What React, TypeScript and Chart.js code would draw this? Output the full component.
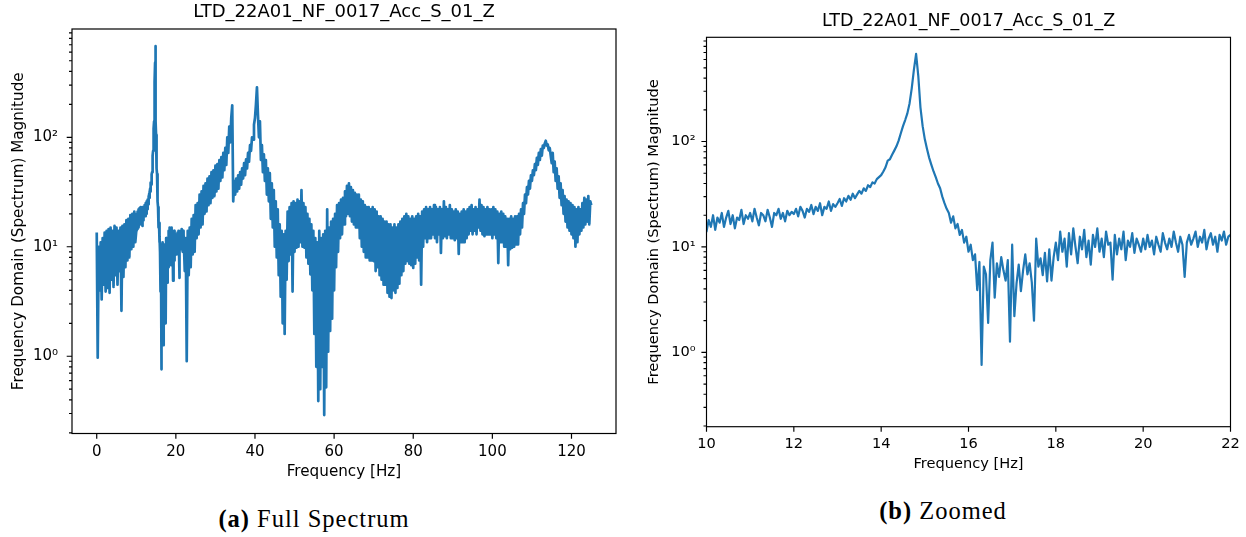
import React, { useEffect, useRef } from 'react';
import { Chart, registerables } from 'chart.js';

Chart.register(...registerables);

// ---------- text ----------
const PLOT_TITLE = 'LTD_22A01_NF_0017_Acc_S_01_Z';
const X_AXIS_LABEL = 'Frequency [Hz]';
const Y_AXIS_LABEL = 'Frequency Domain (Spectrum) Magnitude';
const CAPTION_FULL_TAG = '(a)';
const CAPTION_FULL_TEXT = 'Full Spectrum';
const CAPTION_ZOOM_TAG = '(b)';
const CAPTION_ZOOM_TEXT = 'Zoomed';

// ---------- axes ----------
const FULL_X_TICKS = [0, 20, 40, 60, 80, 100, 120];
const ZOOM_X_TICKS = [10, 12, 14, 16, 18, 20, 22];
const Y_MAJOR_TICKS = [1, 10, 100];
const Y_MAJOR_LABELS = ['10\u2070', '10\u00B9', '10\u00B2'];
const FULL_X_RANGE = [-6.25, 131.25];
const ZOOM_X_RANGE = [10, 22];
const Y_RANGE = [0.197, 975];

// ---------- spectrum magnitude, per frequency bin ----------
// 0.00 .. 9.75 Hz, 0.25 Hz bins
const START_0_HZ = 0;
const STEP_0_HZ = 0.25;
const MAG_0_TO_10_HZ = [
  13.5, 0.97, 10, 4, 11, 3.3, 12, 4.5, 13.5, 3.9, 14, 4.2, 14.5, 3.8, 15, 5, 14, 4.3, 15.5, 5.5,
  15, 4.5, 14, 6, 15, 2.6, 15.5, 5.3, 16, 6.5, 17.5, 7.5, 18, 8, 19.5, 9.5, 20, 10, 21, 11,
];

// 10.00 .. 22.00 Hz, 0.05 Hz bins (zoomed region)
const START_10_HZ = 10;
const STEP_10_HZ = 0.05;
const MAG_10_TO_22_HZ = [
  14, 18, 15.5, 20, 14.5, 19, 17, 21, 15.5, 19, 22, 16.5, 20, 15, 19, 18, 22.5, 16.5, 20, 18.5,
  21, 17.5, 23, 19, 16, 21, 20, 17.5, 22.5, 19, 15.5, 21, 20, 23, 18.5, 21, 17.5, 22, 20, 21.5,
  20.5, 23, 19.5, 24, 22, 19, 23, 21.5, 25, 20.5, 24, 22, 26, 20, 24, 23, 27, 22, 25.5, 24,
  26, 28.5, 24.5, 29, 27, 30.5, 28, 32, 29, 31.5, 34, 32, 36, 34, 38.5, 37, 41, 40, 44, 46,
  48, 52, 57, 66, 68, 75, 82, 90, 102, 120, 140, 160, 185, 230, 320, 480, 680, 420, 210, 140,
  105, 85, 70, 60, 52, 46, 40, 36, 30, 26, 23, 21, 17, 19.5, 15, 16.5, 13, 14.5, 11, 12.5,
  9, 10.5, 7.5, 8.5, 3.9, 7.2, 0.76, 6.5, 5.5, 1.9, 7.5, 11, 3.3, 7, 5.2, 8, 6, 4.8, 7.5, 1.26,
  10.5, 2.2, 4.5, 6.8, 3.8, 6, 8.5, 5.5, 7, 4.6, 2.0, 12, 6.5, 7.8, 5.4, 8.8, 4.7, 9.5, 4.8, 8,
  11, 7.5, 14, 9, 12, 6.5, 13.5, 8.5, 15, 10, 7, 12.5, 9.5, 14.5, 8, 11.5, 6.8, 13, 10, 15,
  9, 12, 8, 14, 10.5, 11, 4.9, 13, 8.5, 12, 9.5, 14, 7.5, 11.5, 10, 13.5, 8.8, 12, 10.5, 9,
  12, 9.5, 13, 10, 11.5, 8.5, 12.5, 10.5, 9, 13.5, 11, 9.5, 12, 10, 14, 11, 9, 12.5, 10.5, 5.2,
  11, 13, 10.5, 12, 14, 10, 12.5, 11, 14.5, 9.5, 12, 13.5, 10.5, 12.5, 9, 13, 11.5, 14, 10.5, 12.5,
  13,
];

// 22.25 .. 59.75 Hz, 0.25 Hz bins
const START_22_HZ = 22.25;
const STEP_22_HZ = 0.25;
const MAG_22_TO_60_HZ = [
  6, 12, 0.9,
  14, 5.5, 15, 6.5,
  18, 8.5, 19.5, 9,
  24, 12, 25, 13,
  30, 15, 32, 16,
  36, 20, 38, 21,
  42, 24, 44, 25,
  48, 28, 50, 29,
  55, 32, 57, 34,
  62, 40, 66, 43,
  72, 50, 80, 56,
  100, 72, 125, 90,
  150, 196, 26, 40,
  30, 42, 32, 45,
  34, 48, 37, 52,
  42, 58, 45, 63,
  52, 72, 60, 85,
  75, 100, 95, 130,
  150, 200, 286, 160,
  100, 140, 62, 85,
  48, 70, 40, 62,
  30, 52, 26, 47,
  18, 38, 15, 33,
  10, 26, 8, 22,
  5.5, 16, 3.5, 14,
  2, 13, 1.6, 14,
  5, 21, 7.4, 23,
  8.5, 25, 3.9, 26,
  9, 25, 9.8, 27,
  10, 26, 11, 33,
  10, 25, 9.8, 23,
  8, 20, 7, 18,
  5.6, 16, 4, 14,
  1.6, 12, 0.8, 11,
  0.39, 14, 0.5, 12,
  0.8, 13, 0.29, 14,
  0.52, 22, 1.1, 15,
  1.7, 17, 2.2, 18,
];

// 60.00 .. 125.00 Hz, 0.25 Hz bins
const START_60_HZ = 60;
const STEP_60_HZ = 0.25;
const MAG_60_TO_125_HZ = [
  4, 20, 6.5, 24,
  9, 25, 12, 27,
  13, 28, 16, 32,
  19, 36, 20, 38,
  19, 35, 17, 33,
  16, 31, 15, 30,
  15, 30, 12, 27,
  10, 26, 9, 24,
  8, 23, 8, 23,
  7.5, 22, 7.5, 23,
  7.4, 22, 6, 21,
  6.5, 19, 5.5, 19,
  5, 18, 4.5, 17,
  4.5, 17, 3.8, 16,
  3.5, 16, 3.4, 15,
  4, 16, 3.8, 15,
  4.2, 16, 4.6, 17,
  5.5, 18, 6, 19,
  7, 20, 7.4, 19,
  7, 18, 6.8, 19,
  6.4, 18, 7, 19,
  8, 20, 7.5, 19,
  4.5, 21, 10, 22,
  12, 23, 11, 22,
  12, 23, 12, 22,
  13, 24, 12, 23,
  11, 22, 13, 23,
  8.8, 22, 12, 26,
  12.5, 23, 12, 22,
  13, 24, 12, 22,
  12, 21, 11.5, 22,
  12, 21, 8.6, 20,
  11, 21, 11, 22,
  11, 21, 12, 22,
  13, 23, 14, 24,
  13, 22, 14, 23,
  13, 22, 15, 27,
  14, 24, 13, 23,
  12.5, 22, 13, 23,
  13, 22, 13, 22,
  12, 23, 13, 22,
  12, 21, 7.1, 20,
  11, 21, 11, 20,
  10, 19, 10, 18,
  6.8, 18, 9.5, 19,
  9.8, 18, 10, 19,
  10.5, 19, 10.5, 20,
  13, 22, 15, 25,
  20, 30, 25, 35,
  30, 40, 34, 45,
  40, 50, 45, 57,
  50, 65, 56, 72,
  62, 78, 68, 84,
  80, 88, 93, 84,
  86, 76, 80, 68,
  58, 72, 48, 60,
  40, 52, 34, 44,
  28, 38, 24, 33,
  20, 29, 17, 27,
  15, 26, 14, 25,
  13, 24, 12, 23,
  10, 22, 11, 23,
  13, 22, 14, 25,
  15, 28, 16, 27,
  17, 29, 16, 26,
  24,
];

function binsToPoints(startHz: number, stepHz: number, mags: number[]) {
  return mags.map((m, i) => ({ x: Math.round((startHz + i * stepHz) * 1000) / 1000, y: m }));
}

const SPECTRUM = [
  ...binsToPoints(START_0_HZ, STEP_0_HZ, MAG_0_TO_10_HZ),
  ...binsToPoints(START_10_HZ, STEP_10_HZ, MAG_10_TO_22_HZ),
  ...binsToPoints(START_22_HZ, STEP_22_HZ, MAG_22_TO_60_HZ),
  ...binsToPoints(START_60_HZ, STEP_60_HZ, MAG_60_TO_125_HZ),
];

// ---------- frame + matplotlib-like ticks ----------
const frameTicksPlugin = {
  id: 'frameTicks',
  afterDraw(chart: any, _args: any, opts: any) {
    const { ctx, chartArea: a, scales } = chart;
    const xs = scales.x;
    const ys = scales.y;
    ctx.save();
    ctx.strokeStyle = '#000';
    ctx.lineWidth = opts.lineWidth;
    ctx.strokeRect(a.left, a.top, a.right - a.left, a.bottom - a.top);
    ctx.beginPath();
    for (const t of xs.ticks) {
      const px = xs.getPixelForValue(t.value);
      ctx.moveTo(px, a.bottom);
      ctx.lineTo(px, a.bottom + opts.major);
    }
    ctx.stroke();
    ctx.beginPath();
    const lo = Math.floor(Math.log10(ys.min));
    const hi = Math.ceil(Math.log10(ys.max));
    for (let e = lo; e <= hi; e++) {
      for (let m = 1; m <= 9; m++) {
        const v = m * Math.pow(10, e);
        if (v < ys.min || v > ys.max) continue;
        const py = ys.getPixelForValue(v);
        const len = m === 1 ? opts.major : opts.minor;
        ctx.moveTo(a.left - len, py);
        ctx.lineTo(a.left, py);
      }
    }
    ctx.stroke();
    ctx.restore();
  },
};

const FONT = "'DejaVu Sans', sans-serif";

function makeConfig(p: any) {
  return {
    type: 'line',
    data: {
      datasets: [
        {
          data: SPECTRUM,
          borderColor: '#1f77b4',
          borderWidth: p.lineWidth,
          borderJoinStyle: 'round',
          borderCapStyle: 'butt',
          pointRadius: 0,
          tension: 0,
          fill: false,
        },
      ],
    },
    options: {
      responsive: false,
      animation: false,
      devicePixelRatio: 1,
      events: [],
      layout: { padding: { left: 0, right: p.rightPad, top: 0, bottom: 0 } },
      plugins: {
        legend: { display: false },
        tooltip: { enabled: false },
        title: {
          display: true,
          text: PLOT_TITLE,
          fullSize: false,
          color: '#000',
          font: { family: FONT, size: p.titleSize, weight: 'normal', lineHeight: 1.2 },
          padding: { top: p.titlePadTop, bottom: p.titlePadBottom },
        },
        frameTicks: { major: p.majorLen, minor: p.minorLen, lineWidth: p.frameWidth },
      },
      scales: {
        x: {
          type: 'linear',
          min: p.xRange[0],
          max: p.xRange[1],
          afterBuildTicks: (s: any) => {
            s.ticks = p.xTicks.map((v: number) => ({ value: v }));
          },
          afterFit: (s: any) => {
            s.height = p.xAxisHeight;
            s.paddingLeft = 0;
            s.paddingRight = 0;
          },
          grid: { display: false, drawTicks: false },
          border: { display: false },
          ticks: {
            color: '#000',
            font: { family: FONT, size: p.tickSize },
            padding: p.xTickPad,
            maxRotation: 0,
            autoSkip: false,
          },
          title: {
            display: true,
            text: X_AXIS_LABEL,
            color: '#000',
            font: { family: FONT, size: p.labelSize, lineHeight: 1.2 },
            padding: { top: 0, bottom: p.xTitlePad },
          },
        },
        y: {
          type: 'logarithmic',
          min: Y_RANGE[0],
          max: Y_RANGE[1],
          afterBuildTicks: (s: any) => {
            s.ticks = Y_MAJOR_TICKS.map((v) => ({ value: v, major: true }));
          },
          afterFit: (s: any) => {
            s.width = p.yAxisWidth;
            s.paddingTop = 0;
            s.paddingBottom = 0;
          },
          grid: { display: false, drawTicks: false },
          border: { display: false },
          ticks: {
            color: '#000',
            font: { family: FONT, size: p.tickSize },
            padding: p.yTickPad,
            autoSkip: false,
            callback: (v: number) => {
              const i = Y_MAJOR_TICKS.indexOf(v);
              return i >= 0 ? Y_MAJOR_LABELS[i] : '';
            },
          },
          title: {
            display: true,
            text: Y_AXIS_LABEL,
            color: '#000',
            font: { family: FONT, size: p.labelSize, lineHeight: 1.2 },
            padding: { top: p.yTitlePad, bottom: 0 },
          },
        },
      },
    },
    plugins: [frameTicksPlugin],
  };
}

const FULL_PANEL = {
  xRange: FULL_X_RANGE,
  xTicks: FULL_X_TICKS,
  lineWidth: 2.7,
  rightPad: 6,
  titleSize: 18,
  titlePadTop: 2,
  titlePadBottom: 5.4,
  tickSize: 15,
  labelSize: 15.2,
  xAxisHeight: 56.5,
  yAxisWidth: 72,
  xTickPad: 9.5,
  yTickPad: 14,
  xTitlePad: 8.9,
  yTitlePad: 9.7,
  majorLen: 5.3,
  minorLen: 3,
  frameWidth: 1.2,
};

const ZOOM_PANEL = {
  xRange: ZOOM_X_RANGE,
  xTicks: ZOOM_X_TICKS,
  lineWidth: 2.2,
  rightPad: 15.5,
  titleSize: 17.5,
  titlePadTop: 10.5,
  titlePadBottom: 5.8,
  tickSize: 14.6,
  labelSize: 14.6,
  xAxisHeight: 63.3,
  yAxisWidth: 76.5,
  xTickPad: 9.2,
  yTickPad: 10.8,
  xTitlePad: 17.2,
  yTitlePad: 15,
  majorLen: 5.1,
  minorLen: 3,
  frameWidth: 1.15,
};

const captionStyle: React.CSSProperties = {
  position: 'absolute',
  width: 400,
  textAlign: 'center',
  fontFamily: "'Liberation Serif', serif",
  fontSize: 24.5,
  lineHeight: '26px',
  letterSpacing: '1px',
  color: '#000',
  whiteSpace: 'nowrap',
};

export default function App() {
  const fullRef = useRef<HTMLCanvasElement | null>(null);
  const zoomRef = useRef<HTMLCanvasElement | null>(null);

  useEffect(() => {
    const charts: Chart[] = [];
    if (fullRef.current) charts.push(new Chart(fullRef.current, makeConfig(FULL_PANEL) as any));
    if (zoomRef.current) charts.push(new Chart(zoomRef.current, makeConfig(ZOOM_PANEL) as any));
    return () => charts.forEach((c) => c.destroy());
  }, []);

  return (
    <div
      style={{
        position: 'absolute',
        left: 0,
        top: 0,
        width: 1246,
        height: 537,
        background: '#fff',
        overflow: 'hidden',
      }}
    >
      <canvas ref={fullRef} width={622} height={490} style={{ position: 'absolute', left: 0, top: 0 }} />
      <canvas ref={zoomRef} width={616} height={490} style={{ position: 'absolute', left: 630, top: 0 }} />
      <div style={{ ...captionStyle, left: 314 - 200, top: 506 }}>
        <b>{CAPTION_FULL_TAG}</b> {CAPTION_FULL_TEXT}
      </div>
      <div style={{ ...captionStyle, left: 943 - 200, top: 498 }}>
        <b>{CAPTION_ZOOM_TAG}</b> {CAPTION_ZOOM_TEXT}
      </div>
    </div>
  );
}
